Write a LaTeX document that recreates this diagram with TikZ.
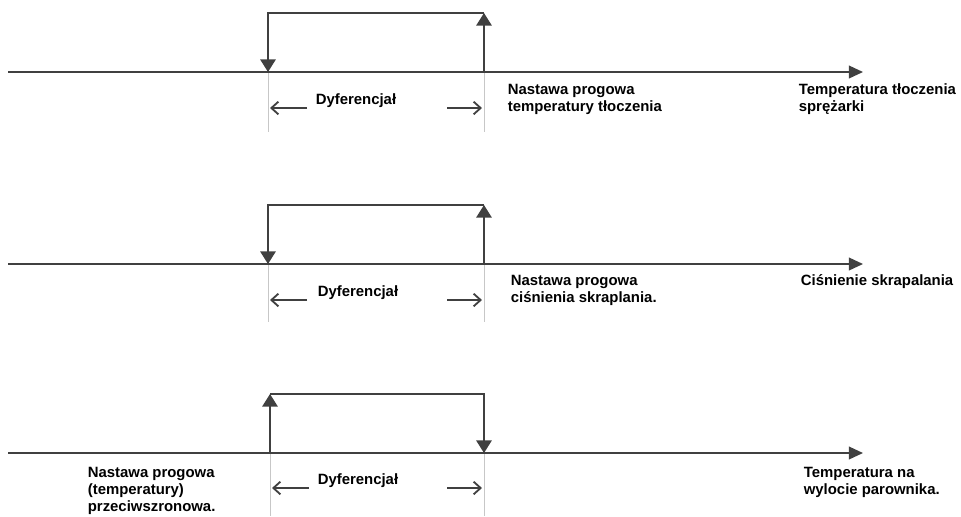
\documentclass[tikz,border=0pt]{standalone}
\usepackage{fontspec}
\setmainfont{Liberation Sans}
\usetikzlibrary{arrows.meta}
\colorlet{linegray}{black!75}
\colorlet{guidegray}{black!22}

\begin{document}
\begin{tikzpicture}[x=0.025cm, y=-0.025cm, line width=1.2pt, >=Triangle,
  font=\fontsize{10.6}{12}\selectfont\bfseries]
\tikzset{
  axis/.style={draw=linegray, -{Triangle[width=9pt,length=10pt]}},
  jump/.style={draw=linegray, -{Triangle[width=11pt,length=9pt]}},
  guide/.style={draw=guidegray, line width=0.6pt},
  span/.style={draw=linegray, line width=1.3pt, -{Straight Barb[length=5pt,width=9pt]}},
  lbl/.style={anchor=base west, align=left, inner sep=0pt},
  dif/.style={anchor=base, inner sep=0pt}
}
\useasboundingbox (0,0) rectangle (961,516);

% diagram 1: temperatura tloczenia
\coordinate (A1) at (8,72);
\coordinate (E1) at (863,72);
\coordinate (L1) at (268,72);
\coordinate (R1) at (484,72);
\coordinate (TL1) at (268,13);
\coordinate (TR1) at (484,13);
\coordinate (GL1) at (268,132);
\coordinate (GR1) at (484,132);
\coordinate (SL1) at (307,108);
\coordinate (PL1) at (270,108);
\coordinate (SR1) at (447,108);
\coordinate (PR1) at (482,108);

\draw[guide] (L1) -- (GL1);
\draw[guide] (R1) -- (GR1);
\draw[axis] (A1) -- (E1);
\draw[jump] (R1) -- (TR1);
\draw[jump] (TR1) -- (TL1) -- (L1);
\draw[span] (SL1) -- (PL1);
\draw[span] (SR1) -- (PR1);

\node[dif] (dif1) at (356,104) {Dyferencjał};
\node[lbl] (set1) at (507,111) {Nastawa progowa\\temperatury tłoczenia};
\node[lbl] (var1) at (798,111) {Temperatura tłoczenia\\sprężarki};

% diagram 2: cisnienie skraplania
\coordinate (A2) at (8,264);
\coordinate (E2) at (863,264);
\coordinate (L2) at (268,264);
\coordinate (R2) at (484,264);
\coordinate (TL2) at (268,205);
\coordinate (TR2) at (484,205);
\coordinate (GL2) at (268,322);
\coordinate (GR2) at (484,322);
\coordinate (SL2) at (307,300);
\coordinate (PL2) at (270,300);
\coordinate (SR2) at (447,300);
\coordinate (PR2) at (482,300);

\draw[guide] (L2) -- (GL2);
\draw[guide] (R2) -- (GR2);
\draw[axis] (A2) -- (E2);
\draw[jump] (R2) -- (TR2);
\draw[jump] (TR2) -- (TL2) -- (L2);
\draw[span] (SL2) -- (PL2);
\draw[span] (SR2) -- (PR2);

\node[dif] (dif2) at (358,296) {Dyferencjał};
\node[lbl] (set2) at (510,302) {Nastawa progowa\\ciśnienia skraplania.};
\node[lbl] (var2) at (800,285) {Ciśnienie skrapalania};

% diagram 3: temperatura na wylocie parownika
\coordinate (A3) at (8,453);
\coordinate (E3) at (863,453);
\coordinate (L3) at (270,453);
\coordinate (R3) at (484,453);
\coordinate (TL3) at (270,394);
\coordinate (TR3) at (484,394);
\coordinate (GL3) at (270,516);
\coordinate (GR3) at (484,516);
\coordinate (SL3) at (309,488);
\coordinate (PL3) at (272,488);
\coordinate (SR3) at (447,488);
\coordinate (PR3) at (482,488);

\draw[guide] (L3) -- (GL3);
\draw[guide] (R3) -- (GR3);
\draw[axis] (A3) -- (E3);
\draw[jump] (L3) -- (TL3);
\draw[jump] (TL3) -- (TR3) -- (R3);
\draw[span] (SL3) -- (PL3);
\draw[span] (SR3) -- (PR3);

\node[dif] (dif3) at (358,484) {Dyferencjał};
\node[lbl] (set3) at (87,511) {Nastawa progowa\\(temperatury)\\przeciwszronowa.};
\node[lbl] (var3) at (803,494) {Temperatura na\\wylocie parownika.};
\end{tikzpicture}
\end{document}
